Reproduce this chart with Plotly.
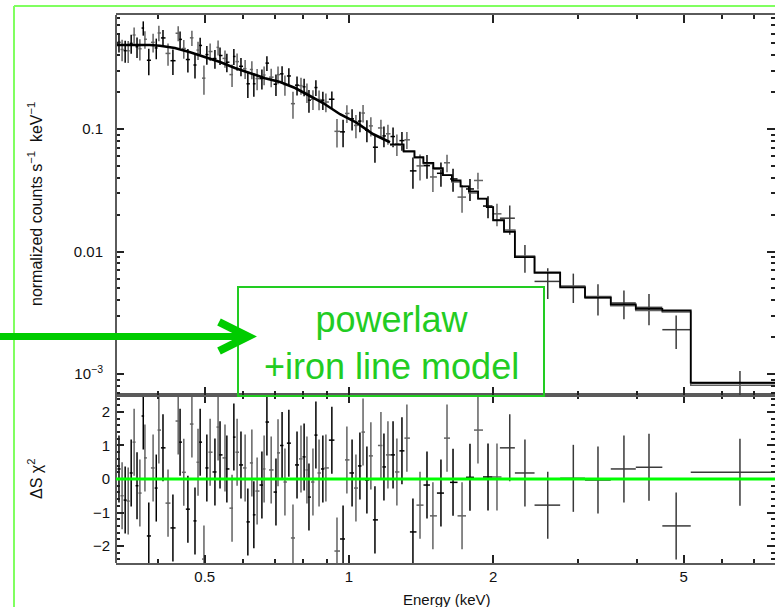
import math
import plotly.graph_objects as go

W, H = 775, 607

# ---------------- data ----------------
# soft band points (two detectors interleaved): energy (keV), flux, 1-sigma error, residual
soft_energy = [0.331, 0.336, 0.341, 0.346, 0.351, 0.356, 0.361, 0.366, 0.372, 0.375,
               0.382, 0.390, 0.396, 0.401, 0.409, 0.419, 0.429, 0.440, 0.444, 0.452,
               0.461, 0.470, 0.477, 0.484, 0.489, 0.498, 0.505, 0.513, 0.525, 0.533,
               0.538, 0.551, 0.556, 0.570, 0.575, 0.584, 0.595, 0.607, 0.615, 0.627,
               0.633, 0.643, 0.658, 0.665, 0.674, 0.688, 0.704, 0.711, 0.725, 0.735,
               0.749, 0.764, 0.779, 0.794, 0.806, 0.817, 0.825, 0.841, 0.853, 0.866,
               0.882, 0.895, 0.921, 0.944, 0.972, 0.990, 1.015, 1.034, 1.054, 1.070,
               1.090, 1.111, 1.133, 1.166, 1.183, 1.206, 1.236, 1.259, 1.290, 1.321,
               1.360, 1.407, 1.455, 1.497, 1.556, 1.602, 1.649, 1.722, 1.789, 1.859,
               1.951, 2.037]
soft_flux = [0.510, 0.446, 0.436, 0.435, 0.500, 0.585, 0.469, 0.452, 0.667, 0.540,
             0.364, 0.510, 0.459, 0.608, 0.554, 0.414, 0.361, 0.605, 0.539, 0.454,
             0.369, 0.555, 0.333, 0.441, 0.481, 0.260, 0.405, 0.429, 0.376, 0.464,
             0.398, 0.377, 0.351, 0.278, 0.391, 0.355, 0.325, 0.311, 0.234, 0.306,
             0.234, 0.258, 0.258, 0.276, 0.345, 0.265, 0.232, 0.278, 0.282, 0.230,
             0.271, 0.161, 0.228, 0.226, 0.221, 0.199, 0.172, 0.175, 0.218, 0.174,
             0.172, 0.166, 0.175, 0.0957, 0.0948, 0.134, 0.121, 0.107, 0.116, 0.135,
             0.0978, 0.106, 0.0710, 0.102, 0.0878, 0.0914, 0.0868, 0.0753, 0.0804, 0.0816,
             0.0455, 0.0500, 0.0502, 0.0406, 0.0435, 0.0530, 0.0391, 0.0278, 0.0324, 0.0380,
             0.0235, 0.0203]
soft_flux_err = [0.089, 0.089, 0.089, 0.089, 0.089, 0.089, 0.089, 0.089, 0.089, 0.089,
                 0.089, 0.088, 0.088, 0.088, 0.088, 0.085, 0.085, 0.085, 0.085, 0.080,
                 0.080, 0.080, 0.075, 0.075, 0.075, 0.070, 0.070, 0.070, 0.065, 0.065,
                 0.065, 0.061, 0.061, 0.058, 0.058, 0.058, 0.055, 0.055, 0.055, 0.051,
                 0.051, 0.051, 0.048, 0.048, 0.048, 0.046, 0.046, 0.046, 0.043, 0.043,
                 0.043, 0.040, 0.040, 0.036, 0.036, 0.036, 0.036, 0.032, 0.032, 0.032,
                 0.029, 0.029, 0.027, 0.025, 0.024, 0.022, 0.024, 0.023, 0.022, 0.022,
                 0.020, 0.019, 0.018, 0.017, 0.017, 0.017, 0.016, 0.015, 0.014, 0.013,
                 0.013, 0.012, 0.011, 0.010, 0.0097, 0.0087, 0.0083, 0.0071, 0.0066, 0.0060,
                 0.0048, 0.0042]
soft_resid = [0.30, -0.50, -0.63, -0.66, 0.18, 1.10, -0.20, -0.42, 1.88, 0.63,
              -1.70, 0.33, -0.27, 1.46, 0.93, -0.72, -1.46, 1.73, 1.10, 0.20,
              -0.90, 1.64, -1.25, 0.50, 1.10, -2.39, 0.33, 0.80, 0.21, 1.55,
              0.72, 0.63, 0.30, -0.87, 1.25, 0.80, 0.42, 0.33, -1.28, 0.48,
              -1.07, -0.36, -0.18, 0.30, 1.70, 0.27, -0.39, 0.78, 1.00, -0.09,
              1.07, -1.76, 0.42, 0.60, 0.66, 0.27, -0.54, -0.09, 1.31, 0.18,
              0.30, 0.33, 1.16, -2.15, -1.79, 0.57, 0.18, -0.27, 0.39, 1.40,
              -0.03, 0.69, -1.22, 1.00, 0.36, 0.72, 0.72, 0.21, 0.84, 1.22,
              -1.58, -0.78, -0.18, -1.10, -0.42, 1.22, -0.10, -1.10, 0.05, 1.46,
              0.06, 0.06]
soft_detector = [0, 1, 0, 1, 0, 1, 0, 1, 0, 1, 0, 1, 0, 1, 0, 1, 0, 1, 0, 1,
                 0, 1, 0, 1, 0, 1, 0, 1, 0, 1, 0, 1, 0, 1, 0, 1, 0, 1, 0, 1,
                 0, 1, 0, 1, 0, 1, 0, 1, 0, 1, 0, 1, 0, 1, 0, 1, 0, 1, 0, 1,
                 0, 1, 0, 1, 0, 1, 0, 1, 0, 1, 0, 1, 0, 1, 0, 1, 0, 1, 0, 1,
                 0, 1, 0, 1, 0, 1, 0, 1, 0, 1, 0, 1]

# hard band (wide bins)
hard_bin_lo = [2.066, 2.22, 2.44, 2.76, 3.11, 3.52, 3.97, 4.51, 5.17]
hard_bin_hi = [2.22, 2.44, 2.76, 3.11, 3.52, 3.97, 4.51, 5.17, 8.30]
hard_energy = [2.166, 2.33, 2.60, 2.94, 3.31, 3.75, 4.23, 4.82, 6.55]
hard_flux = [0.0187, 0.0090, 0.0057, 0.0052, 0.0042, 0.0038, 0.0035, 0.0023, 0.00084]
hard_flux_err = [0.0050, 0.0023, 0.0016, 0.0014, 0.0012, 0.0010, 0.0010, 0.0007, 0.00022]
hard_resid = [0.93, 0.18, -0.78, 0.02, -0.03, 0.30, 0.35, -1.40, 0.20]

# folded model (powerlaw + iron line)
model_smooth_energy = [0.326, 0.384, 0.403, 0.433, 0.466, 0.500, 0.538, 0.578, 0.621,
                       0.668, 0.718, 0.772, 0.829, 0.883, 0.958, 1.039, 1.122, 1.218]
model_smooth_flux = [0.485, 0.485, 0.478, 0.458, 0.424, 0.387, 0.352, 0.315, 0.286,
                     0.260, 0.242, 0.216, 0.186, 0.163, 0.132, 0.112, 0.091, 0.078]
model_step_edges = [1.218, 1.30, 1.37, 1.43, 1.50, 1.57, 1.64, 1.71, 1.78, 1.86, 1.94,
                    2.00, 2.107, 2.22, 2.44, 2.76, 3.11, 3.52, 3.97, 4.51, 5.17, 8.30]
model_step_flux_a = [0.075, 0.066, 0.059, 0.053, 0.048, 0.042, 0.038, 0.034, 0.031, 0.027,
                     0.023, 0.018, 0.0145, 0.0090, 0.0067, 0.0051, 0.0042, 0.0037, 0.0034,
                     0.0033, 0.00085]
model_step_flux_b = [0.074, 0.065, 0.058, 0.052, 0.047, 0.042, 0.037, 0.034, 0.030, 0.027,
                     0.023, 0.018, 0.0150, 0.0092, 0.0068, 0.0052, 0.0043, 0.0036, 0.0033,
                     0.0032, 0.00081]

# axis ticks
x_tick_vals = [0.5, 1, 2, 5]
x_tick_text = ["0.5", "1", "2", "5"]
x_minor_vals = [0.4, 0.6, 0.7, 0.8, 0.9, 3, 4, 6, 7]
y_tick_vals = [0.001, 0.01, 0.1]
y_tick_text = ["10<sup>\u22123</sup>", "0.01", "0.1"]
r_tick_vals = [-2, -1, 0, 1, 2]
r_tick_text = ["\u22122", "\u22121", "0", "1", "2"]

# ---------------- helpers ----------------
def px(x):
    return x / W


def py(y):
    return 1 - y / H

FONT = "Liberation Sans, Arial, Helvetica, sans-serif"
BLACK = "#000000"
GREY = "#626262"
AXIS = "#5a5a5a"

# bin half-widths for soft points from neighbour spacing
n = len(soft_energy)
soft_xminus, soft_xplus = [], []
for i, e in enumerate(soft_energy):
    pe = soft_energy[i - 1] if i > 0 else e * e / soft_energy[i + 1]
    ne = soft_energy[i + 1] if i < n - 1 else e * e / soft_energy[i - 1]
    soft_xminus.append(e - math.sqrt(pe * e))
    soft_xplus.append(math.sqrt(e * ne) - e)

fig = go.Figure()


def add_points(xs, ys, yerr, xm, xp, color, resid):
    fig.add_trace(go.Scatter(
        x=xs, y=ys, mode="markers", xaxis="x2", yaxis="y2",
        marker=dict(size=1, opacity=0, color=color),
        error_x=dict(type="data", array=xp, arrayminus=xm, symmetric=False,
                     color=color, thickness=1.5, width=0),
        error_y=dict(type="data", array=yerr, color=color, thickness=1.5, width=0),
        showlegend=False, hoverinfo="skip"))
    fig.add_trace(go.Scatter(
        x=xs, y=resid, mode="markers", xaxis="x", yaxis="y",
        marker=dict(size=1, opacity=0, color=color),
        error_x=dict(type="data", array=xp, arrayminus=xm, symmetric=False,
                     color=color, thickness=1.5, width=0),
        error_y=dict(type="constant", value=1, color=color, thickness=1.5, width=0),
        showlegend=False, hoverinfo="skip"))


for det, col in [(1, GREY), (0, BLACK)]:
    idx = [i for i in range(n) if soft_detector[i] == det]
    add_points([soft_energy[i] for i in idx], [soft_flux[i] for i in idx],
               [soft_flux_err[i] for i in idx], [soft_xminus[i] for i in idx],
               [soft_xplus[i] for i in idx], col, [soft_resid[i] for i in idx])

add_points(hard_energy, hard_flux, hard_flux_err,
           [e - lo for e, lo in zip(hard_energy, hard_bin_lo)],
           [hi - e for e, hi in zip(hard_energy, hard_bin_hi)], "#3a3a3a", hard_resid)

# model
fig.add_trace(go.Scatter(x=model_step_edges, y=model_step_flux_b + [model_step_flux_b[-1]],
                         mode="lines", line=dict(color=GREY, width=1.5, shape="hv"),
                         xaxis="x2", yaxis="y2", showlegend=False, hoverinfo="skip"))
fig.add_trace(go.Scatter(x=model_step_edges, y=model_step_flux_a + [model_step_flux_a[-1]],
                         mode="lines", line=dict(color=BLACK, width=1.8, shape="hv"),
                         xaxis="x2", yaxis="y2", showlegend=False, hoverinfo="skip"))
fig.add_trace(go.Scatter(x=model_smooth_energy, y=model_smooth_flux,
                         mode="lines", line=dict(color=BLACK, width=2.6),
                         xaxis="x2", yaxis="y2", showlegend=False, hoverinfo="skip"))

x_left = px(116)
xr = [math.log10(0.3263), 0.8894]
tickfont = dict(family=FONT, size=15, color="#111")
common_x = dict(type="log", range=xr, domain=[x_left, 1.0], ticks="inside",
                ticklen=8, tickwidth=1.5, tickcolor="#222", showline=True,
                linecolor=AXIS, linewidth=2, mirror="allticks", showgrid=False,
                zeroline=False, tickvals=x_tick_vals, ticktext=x_tick_text,
                minor=dict(tickvals=x_minor_vals, ticks="inside", ticklen=4,
                           tickwidth=1.5, tickcolor="#222", showgrid=False),
                tickfont=tickfont)

common_y = dict(ticks="inside", ticklen=8, tickwidth=1.5, tickcolor="#222",
                showline=False, mirror="allticks", showgrid=False, zeroline=False,
                tickfont=tickfont)

fig.update_layout(
    width=W, height=H, margin=dict(l=0, r=0, t=0, b=0),
    paper_bgcolor="white", plot_bgcolor="white",
    font=dict(family=FONT, color="#111"),
    xaxis=dict(**common_x, anchor="y", ticklabelstandoff=-1),
    xaxis2=dict(**common_x, anchor="y2", matches="x", showticklabels=False),
    yaxis=dict(**common_y, domain=[py(563), py(395)], range=[-2.507, 2.507], anchor="x",
               tickvals=r_tick_vals, ticktext=r_tick_text, ticklabelstandoff=5,
               minor=dict(dtick=0.2, tick0=0, ticks="inside", ticklen=4,
                          tickwidth=1.5, tickcolor="#222", showgrid=False)),
    yaxis2=dict(**common_y, domain=[py(395), py(15)], type="log",
                range=[-3.1714, -0.0694], anchor="x2",
                tickvals=y_tick_vals, ticktext=y_tick_text, ticklabelstandoff=12,
                minor=dict(tickvals=[m * 10 ** k for k in range(-4, 0) for m in range(2, 10)],
                           ticks="inside", ticklen=4, tickwidth=1.5,
                           tickcolor="#222", showgrid=False)),
)

shapes = []
# left axis line (right side lies beyond the visible area)
shapes.append(dict(type="line", xref="paper", yref="paper", x0=x_left, x1=x_left,
                   y0=py(563), y1=py(15), line=dict(color=AXIS, width=2)))
# outer light-green frame
shapes.append(dict(type="line", xref="paper", yref="paper", x0=px(14), x1=1.0,
                   y0=py(6), y1=py(6), line=dict(color="#80ff60", width=2)))
shapes.append(dict(type="line", xref="paper", yref="paper", x0=px(14), x1=px(14),
                   y0=py(6), y1=0, line=dict(color="#80ff60", width=2)))
# zero line of residuals
shapes.append(dict(type="line", xref="paper", yref="y", x0=x_left, x1=1.0,
                   y0=0, y1=0, layer="above", line=dict(color="#00ff00", width=3)))
# annotation box
shapes.append(dict(type="rect", xref="paper", yref="paper", x0=px(238), x1=px(544),
                   y0=py(396), y1=py(287), layer="above",
                   line=dict(color="#22cc22", width=2)))
# arrow
shapes.append(dict(type="line", xref="paper", yref="paper", x0=0, x1=px(244),
                   y0=py(336.5), y1=py(336.5), layer="above",
                   line=dict(color="#00cc00", width=7)))
shapes.append(dict(type="path", xref="paper", yref="paper", layer="above",
                   path="M {:.5f},{:.5f} L {:.5f},{:.5f} L {:.5f},{:.5f}".format(
                       px(219), py(322), px(248), py(336.5), px(219), py(351)),
                   line=dict(color="#00cc00", width=8)))
fig.update_layout(shapes=shapes)

ann = []
ann.append(dict(x=px(35), y=py(204), xref="paper", yref="paper", showarrow=False,
                xanchor="center", yanchor="middle",
                text="normalized counts s<sup>\u22121</sup>  keV<sup>\u22121</sup>",
                textangle=-90, font=dict(family=FONT, size=16, color="#111")))
ann.append(dict(x=px(35), y=py(479), xref="paper", yref="paper", showarrow=False,
                xanchor="center", yanchor="middle",
                text="\u0394S \u03c7<sup>2</sup>", textangle=-90,
                font=dict(family=FONT, size=16, color="#111")))
ann.append(dict(x=px(447), y=py(589), xref="paper", yref="paper", showarrow=False,
                xanchor="center", yanchor="top",
                text="Energy (keV)", font=dict(family=FONT, size=15, color="#111")))
ann.append(dict(x=px(391), y=py(343), xref="paper", yref="paper",
                xanchor="center", yanchor="middle", showarrow=False,
                text="powerlaw<br>+iron line model",
                font=dict(family=FONT, size=36, color="#22cc22")))
fig.update_layout(annotations=ann)

fig.write_html("out.html")
